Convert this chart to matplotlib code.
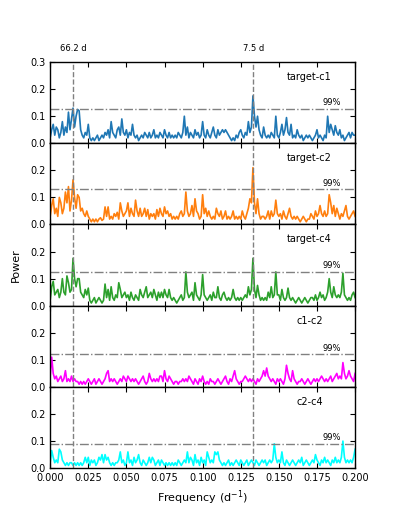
import numpy as np
import matplotlib
matplotlib.use("Agg")
import matplotlib.pyplot as plt

freq = np.arange(201) * 0.001

target_c1 = [
0.02, 0.05, 0.07, 0.03, 0.06, 0.05, 0.02, 0.04, 0.08, 0.03,
0.06, 0.04, 0.115, 0.05, 0.09, 0.13, 0.06, 0.10, 0.125, 0.12,
0.05, 0.03, 0.02, 0.04, 0.03, 0.07, 0.02, 0.01, 0.02, 0.01,
0.02, 0.03, 0.01, 0.02, 0.03, 0.02, 0.04, 0.03, 0.05, 0.02,
0.08, 0.04, 0.03, 0.02, 0.05, 0.06, 0.03, 0.09, 0.04, 0.03,
0.05, 0.02, 0.04, 0.03, 0.07, 0.03, 0.02, 0.03, 0.01, 0.02,
0.03, 0.02, 0.04, 0.03, 0.02, 0.04, 0.02, 0.03, 0.05, 0.02,
0.03, 0.02, 0.04, 0.03, 0.02, 0.05, 0.03, 0.02, 0.04, 0.02,
0.03, 0.02, 0.03, 0.02, 0.04, 0.03, 0.02, 0.04, 0.10, 0.03,
0.06, 0.02, 0.04, 0.03, 0.02, 0.05, 0.03, 0.04, 0.02, 0.03,
0.08, 0.03, 0.02, 0.05, 0.03, 0.02, 0.04, 0.06, 0.03, 0.02,
0.05, 0.03, 0.04, 0.05, 0.04, 0.05, 0.04, 0.03, 0.02, 0.01,
0.02, 0.01, 0.03, 0.02, 0.04, 0.05, 0.03, 0.02, 0.04, 0.03,
0.08, 0.04, 0.06, 0.175, 0.10, 0.06, 0.10, 0.05, 0.03, 0.02,
0.06, 0.03, 0.02, 0.03, 0.02, 0.04, 0.03, 0.02, 0.10, 0.03,
0.02, 0.04, 0.07, 0.03, 0.05, 0.095, 0.04, 0.03, 0.07, 0.02,
0.03, 0.02, 0.05, 0.03, 0.02, 0.03, 0.01, 0.02, 0.03, 0.02,
0.03, 0.02, 0.01, 0.02, 0.03, 0.05, 0.02, 0.03, 0.02, 0.01,
0.03, 0.02, 0.10, 0.04, 0.07, 0.05, 0.03, 0.065, 0.04, 0.03,
0.05, 0.02, 0.03, 0.01, 0.02, 0.03, 0.04, 0.02, 0.04, 0.03,
0.03]

target_c2 = [
0.03, 0.07, 0.095, 0.04, 0.06, 0.03, 0.10, 0.08, 0.04, 0.06,
0.12, 0.08, 0.14, 0.05, 0.09, 0.165, 0.10, 0.06, 0.11, 0.10,
0.05, 0.06, 0.04, 0.03, 0.05, 0.03, 0.02, 0.01, 0.02, 0.01,
0.02, 0.01, 0.02, 0.025, 0.015, 0.02, 0.065, 0.03, 0.065, 0.02,
0.03, 0.02, 0.04, 0.03, 0.045, 0.02, 0.08, 0.05, 0.03, 0.04,
0.05, 0.08, 0.03, 0.06, 0.04, 0.03, 0.09, 0.05, 0.03, 0.06,
0.03, 0.04, 0.06, 0.03, 0.055, 0.02, 0.04, 0.03, 0.04, 0.02,
0.055, 0.03, 0.06, 0.04, 0.03, 0.065, 0.04, 0.05, 0.03, 0.04,
0.02, 0.03, 0.02, 0.03, 0.02, 0.04, 0.05, 0.03, 0.04, 0.12,
0.05, 0.03, 0.04, 0.07, 0.03, 0.095, 0.05, 0.04, 0.02, 0.03,
0.11, 0.04, 0.06, 0.03, 0.05, 0.03, 0.02, 0.03, 0.02, 0.06,
0.04, 0.03, 0.05, 0.02, 0.03, 0.05, 0.02, 0.03, 0.02, 0.03,
0.05, 0.02, 0.03, 0.02, 0.03, 0.02, 0.05, 0.03, 0.02, 0.04,
0.06, 0.095, 0.08, 0.21, 0.08, 0.04, 0.095, 0.04, 0.02, 0.03,
0.03, 0.02, 0.03, 0.05, 0.02, 0.05, 0.03, 0.04, 0.09, 0.04,
0.03, 0.04, 0.02, 0.05, 0.03, 0.02, 0.04, 0.06, 0.03, 0.02,
0.03, 0.02, 0.03, 0.02, 0.01, 0.02, 0.03, 0.02, 0.01, 0.02,
0.02, 0.04, 0.03, 0.02, 0.05, 0.03, 0.04, 0.07, 0.04, 0.03,
0.05, 0.03, 0.04, 0.11, 0.08, 0.04, 0.07, 0.03, 0.06, 0.04,
0.02, 0.04, 0.03, 0.05, 0.07, 0.03, 0.02, 0.03, 0.04, 0.05,
0.03]

target_c4 = [
0.02, 0.07, 0.09, 0.04, 0.05, 0.06, 0.03, 0.05, 0.10, 0.05,
0.04, 0.11, 0.085, 0.05, 0.06, 0.175, 0.10, 0.07, 0.10, 0.10,
0.05, 0.04, 0.03, 0.06, 0.04, 0.065, 0.02, 0.01, 0.02, 0.03,
0.01, 0.02, 0.03, 0.02, 0.01, 0.02, 0.08, 0.03, 0.06, 0.02,
0.07, 0.03, 0.02, 0.04, 0.03, 0.085, 0.06, 0.03, 0.04, 0.05,
0.03, 0.04, 0.02, 0.05, 0.03, 0.02, 0.04, 0.03, 0.02, 0.06,
0.04, 0.03, 0.05, 0.07, 0.03, 0.04, 0.05, 0.03, 0.06, 0.04,
0.02, 0.05, 0.03, 0.05, 0.03, 0.06, 0.04, 0.03, 0.06, 0.03,
0.02, 0.03, 0.02, 0.01, 0.02, 0.03, 0.04, 0.02, 0.03, 0.125,
0.05, 0.03, 0.04, 0.05, 0.02, 0.085, 0.04, 0.03, 0.02, 0.04,
0.115, 0.04, 0.03, 0.02, 0.03, 0.04, 0.02, 0.05, 0.03, 0.03,
0.07, 0.03, 0.02, 0.04, 0.05, 0.03, 0.02, 0.03, 0.02, 0.03,
0.06, 0.03, 0.02, 0.03, 0.02, 0.03, 0.02, 0.03, 0.04, 0.03,
0.07, 0.04, 0.06, 0.175, 0.06, 0.03, 0.075, 0.04, 0.02, 0.03,
0.02, 0.03, 0.02, 0.05, 0.03, 0.07, 0.03, 0.04, 0.125, 0.04,
0.04, 0.02, 0.06, 0.03, 0.02, 0.03, 0.065, 0.03, 0.02, 0.03,
0.02, 0.01, 0.02, 0.03, 0.02, 0.01, 0.02, 0.03, 0.02, 0.01,
0.02, 0.03, 0.03, 0.02, 0.04, 0.02, 0.03, 0.05, 0.03, 0.04,
0.02, 0.03, 0.05, 0.10, 0.05, 0.03, 0.07, 0.04, 0.03, 0.04,
0.03, 0.05, 0.12, 0.04, 0.03, 0.02, 0.03, 0.02, 0.04, 0.05,
0.03]

c1_c2 = [
0.04, 0.11, 0.05, 0.03, 0.04, 0.02, 0.03, 0.04, 0.02, 0.03,
0.06, 0.02, 0.03, 0.02, 0.04, 0.02, 0.03, 0.02, 0.02, 0.01,
0.02, 0.01, 0.02, 0.01, 0.02, 0.03, 0.02, 0.01, 0.02, 0.03,
0.01, 0.02, 0.03, 0.02, 0.01, 0.02, 0.03, 0.05, 0.06, 0.02,
0.03, 0.02, 0.03, 0.02, 0.01, 0.02, 0.03, 0.02, 0.04, 0.03,
0.02, 0.04, 0.03, 0.02, 0.03, 0.02, 0.03, 0.02, 0.01, 0.02,
0.03, 0.04, 0.02, 0.01, 0.02, 0.05, 0.03, 0.02, 0.03, 0.02,
0.03, 0.02, 0.04, 0.04, 0.02, 0.06, 0.03, 0.02, 0.04, 0.03,
0.02, 0.01, 0.02, 0.02, 0.01, 0.02, 0.02, 0.03, 0.02, 0.03,
0.02, 0.04, 0.03, 0.02, 0.01, 0.03, 0.02, 0.01, 0.03, 0.02,
0.04, 0.02, 0.01, 0.02, 0.01, 0.03, 0.02, 0.02, 0.01, 0.02,
0.03, 0.02, 0.01, 0.02, 0.03, 0.04, 0.02, 0.01, 0.03, 0.02,
0.04, 0.06, 0.03, 0.02, 0.01, 0.02, 0.02, 0.03, 0.04, 0.03,
0.02, 0.03, 0.02, 0.03, 0.02, 0.01, 0.03, 0.02, 0.03, 0.04,
0.06, 0.04, 0.07, 0.04, 0.03, 0.02, 0.03, 0.02, 0.01, 0.03,
0.02, 0.03, 0.02, 0.01, 0.03, 0.08, 0.05, 0.03, 0.02, 0.06,
0.03, 0.02, 0.01, 0.02, 0.02, 0.03, 0.02, 0.01, 0.02, 0.03,
0.02, 0.01, 0.02, 0.03, 0.02, 0.03, 0.02, 0.03, 0.04, 0.03,
0.02, 0.03, 0.02, 0.03, 0.04, 0.02, 0.03, 0.04, 0.05, 0.03,
0.04, 0.03, 0.09, 0.05, 0.03, 0.04, 0.06, 0.04, 0.03, 0.02,
0.05]

c2_c4 = [
0.02, 0.065, 0.04, 0.02, 0.03, 0.02, 0.07, 0.06, 0.03, 0.02,
0.01, 0.02, 0.01, 0.02, 0.02, 0.01, 0.02, 0.01, 0.02, 0.01,
0.02, 0.01, 0.02, 0.04, 0.02, 0.04, 0.01, 0.03, 0.02, 0.03,
0.01, 0.02, 0.04, 0.03, 0.05, 0.02, 0.05, 0.03, 0.04, 0.02,
0.01, 0.02, 0.01, 0.02, 0.02, 0.03, 0.06, 0.02, 0.03, 0.01,
0.02, 0.06, 0.02, 0.03, 0.01, 0.04, 0.02, 0.03, 0.05, 0.02,
0.01, 0.03, 0.02, 0.01, 0.02, 0.04, 0.02, 0.04, 0.03, 0.01,
0.02, 0.03, 0.01, 0.03, 0.02, 0.01, 0.02, 0.01, 0.02, 0.01,
0.02, 0.01, 0.02, 0.01, 0.03, 0.02, 0.01, 0.02, 0.03, 0.02,
0.06, 0.02, 0.04, 0.03, 0.01, 0.05, 0.02, 0.03, 0.01, 0.04,
0.02, 0.03, 0.01, 0.06, 0.04, 0.02, 0.03, 0.02, 0.06, 0.05,
0.06, 0.03, 0.02, 0.01, 0.02, 0.01, 0.02, 0.03, 0.01, 0.02,
0.01, 0.02, 0.03, 0.02, 0.01, 0.03, 0.02, 0.01, 0.02, 0.03,
0.01, 0.02, 0.03, 0.02, 0.01, 0.03, 0.02, 0.01, 0.02, 0.03,
0.02, 0.03, 0.01, 0.02, 0.03, 0.02, 0.03, 0.09, 0.04, 0.02,
0.03, 0.02, 0.06, 0.02, 0.01, 0.03, 0.02, 0.01, 0.02, 0.03,
0.02, 0.01, 0.02, 0.03, 0.02, 0.04, 0.01, 0.02, 0.03, 0.02,
0.01, 0.02, 0.03, 0.02, 0.05, 0.03, 0.02, 0.01, 0.03, 0.02,
0.04, 0.02, 0.03, 0.02, 0.01, 0.03, 0.02, 0.04, 0.02, 0.03,
0.02, 0.04, 0.10, 0.04, 0.02, 0.03, 0.02, 0.03, 0.02, 0.04,
0.07]

series = [target_c1, target_c2, target_c4, c1_c2, c2_c4]
names = ["target-c1", "target-c2", "target-c4", "c1-c2", "c2-c4"]
colors = ["#1f77b4", "#ff7f0e", "#2ca02c", "#ff00ff", "#00ffff"]
levels99 = [0.128, 0.130, 0.125, 0.120, 0.090]
periods = [66.2, 7.5]
period_labels = ["66.2 d", "7.5 d"]

fig = plt.figure(figsize=(3.95, 5.26), dpi=100)
fig.subplots_adjust(left=0.127, right=0.899, top=0.882, bottom=0.110, hspace=0)
axes = fig.subplots(5, 1, sharex=True)

for i, ax in enumerate(axes):
    ax.plot(freq, series[i], color=colors[i], lw=1.2)
    for p in periods:
        ax.axvline(1.0 / p, color="gray", ls="--", lw=1.0)
    ax.axhline(levels99[i], color="gray", ls="-.", lw=1.0)
    ax.text(0.185, levels99[i] + 0.006, "99%", fontsize=6, ha="center", va="bottom")
    ax.text(0.170, 0.245, names[i], fontsize=7, ha="center", va="center")
    ax.set_xlim(0, 0.2)
    ax.set_ylim(0, 0.3)
    ax.set_yticks([0.0, 0.1, 0.2, 0.3])
    if i == 0:
        ax.set_yticklabels(["0.0", "0.1", "0.2", "0.3"])
    else:
        ax.set_yticklabels(["0.0", "0.1", "0.2", ""])
    ax.set_xticks(np.arange(0, 0.2001, 0.025))
    ax.tick_params(direction="in", top=True, right=True, labelsize=7, length=3.5, width=0.8)
    for s in ax.spines.values():
        s.set_linewidth(1.0)

for p, lab in zip(periods, period_labels):
    axes[0].text(1.0 / p, 0.35, lab, fontsize=6, ha="center", va="center")

axes[-1].set_xticklabels(["%.3f" % v for v in np.arange(0, 0.2001, 0.025)])
axes[-1].set_xlabel("Frequency (d$^{-1}$)", fontsize=8)
fig.text(0.04, 0.496, "Power", rotation=90, fontsize=8, ha="center", va="center")

fig.savefig("out.png", dpi=100)
